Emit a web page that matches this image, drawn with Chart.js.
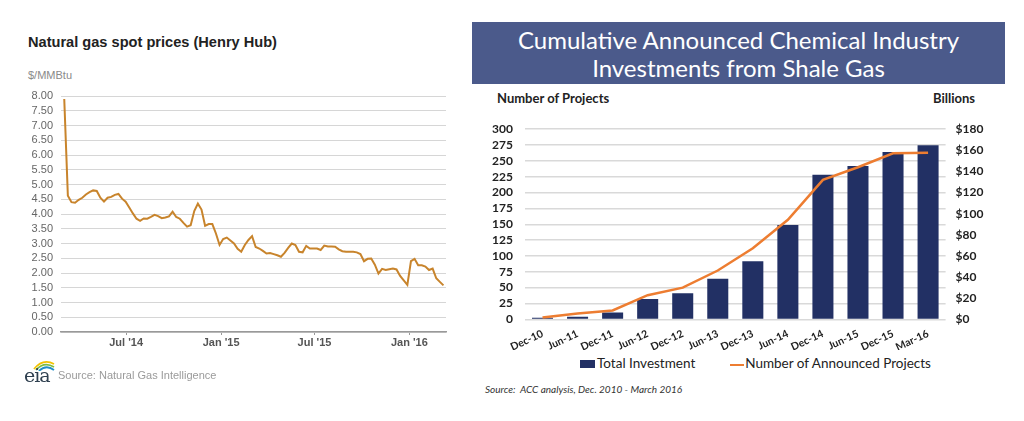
<!DOCTYPE html>
<html>
<head>
<meta charset="utf-8">
<script src="https://cdn.jsdelivr.net/npm/chart.js@4/dist/chart.umd.min.js"></script>
<style>
  body { margin: 0; background: #fff; width: 1024px; height: 421px; overflow: hidden; position: relative; }
  .abs { position: absolute; white-space: nowrap; }
  #gasTitle { left: 28px; top: 34px; font: bold 14.6px "Liberation Sans", Arial, sans-serif; color: #222; }
  #gasUnit { left: 28px; top: 69px; font: 11px "Liberation Sans", Arial, sans-serif; color: #8a8a8a; }
  #gasSource { left: 58px; top: 369px; font: 11px "Liberation Sans", Arial, sans-serif; color: #9a9a9a; }
  #eia { left: 24px; top: 364px; font: 19px "DejaVu Serif", serif; color: #2f4050; letter-spacing: -1px; }
  #banner { left: 472px; top: 22px; width: 533px; height: 62px; background: #4b5a8b; color: #fff;
            font: 24px Lato, sans-serif; text-align: center; line-height: 28px; padding-top: 4px; box-sizing: border-box; }
  .axisTitle { top: 90px; font: bold 13px Lato, sans-serif; color: #222; }
  #legend { left: 580px; top: 355px; font: 13.5px Lato, sans-serif; color: #222; }
  #legend span.box { display: inline-block; width: 15px; height: 8px; background: #223064; margin-right: 2px; }
  #legend span.ln { display: inline-block; width: 14px; height: 2px; background: #ed7d31; vertical-align: middle; margin: 0 1px 0 35px; }
  #accSource { left: 485px; top: 383px; font: italic 10px Lato, sans-serif; color: #333; }
</style>
</head>
<body>
<div class="abs" id="gasTitle">Natural gas spot prices (Henry Hub)</div>
<div class="abs" id="gasUnit">$/MMBtu</div>
<div class="abs" style="left:0;top:80px;width:460px;height:290px;"><canvas id="gasChart"></canvas></div>
<svg class="abs" style="left:33px;top:359px" width="22" height="12">
  <path d="M1 10 Q10 -1 21 5" stroke="#f2c200" stroke-width="1.8" fill="none"/>
  <path d="M3 11 Q11 2 21 8" stroke="#7dbb42" stroke-width="1.8" fill="none"/>
  <path d="M6 12 Q13 5 21 11" stroke="#1f8fc9" stroke-width="1.8" fill="none"/>
</svg>
<div class="abs" id="eia">eia</div>
<div class="abs" id="gasSource">Source: Natural Gas Intelligence</div>

<div class="abs" id="banner">Cumulative Announced Chemical Industry<br>Investments from Shale Gas</div>
<div class="abs axisTitle" style="left:497px;">Number of Projects</div>
<div class="abs axisTitle" style="left:933px;">Billions</div>
<div class="abs" style="left:470px;top:110px;width:520px;height:240px;"><canvas id="accChart"></canvas></div>
<div class="abs" id="legend"><span class="box"></span>Total Investment<span class="ln"></span>Number of Announced Projects</div>
<div class="abs" id="accSource">Source:&nbsp; ACC analysis, Dec. 2010 - March 2016</div>

<script>
// Henry Hub spot price, one reading per week starting the week of 3 Mar 2014 ($/MMBtu)
const gasPrices = [
  7.90, 4.62, 4.40, 4.38, 4.48, 4.55, 4.66, 4.74, 4.80, 4.78,
  4.55, 4.42, 4.55, 4.58, 4.65, 4.68, 4.52, 4.42, 4.22, 4.02,
  3.84, 3.77, 3.85, 3.84, 3.90, 3.97, 3.93, 3.86, 3.88, 3.92,
  4.08, 3.90, 3.84, 3.70, 3.57, 3.62, 4.10, 4.35, 4.15, 3.60,
  3.66, 3.66, 3.34, 2.95, 3.15, 3.20, 3.10, 3.00, 2.82, 2.72,
  2.95, 3.12, 3.25, 2.88, 2.83, 2.75, 2.66, 2.68, 2.64, 2.60,
  2.55, 2.68, 2.85, 3.00, 2.95, 2.72, 2.70, 2.92, 2.83, 2.83,
  2.83, 2.78, 2.93, 2.90, 2.90, 2.89, 2.80, 2.74, 2.72, 2.72,
  2.72, 2.70, 2.64, 2.40, 2.48, 2.49, 2.28, 1.98, 2.14, 2.10,
  2.13, 2.15, 2.12, 1.90, 1.75, 1.60, 2.40, 2.48, 2.26, 2.26,
  2.22, 2.10, 2.15, 1.82, 1.70, 1.58
];
// x-axis labels, placed at the week they fall in (weeks after 3 Mar 2014)
const gasTickLabels = ["Jul '14", "Jan '15", "Jul '15", "Jan '16"];
const gasTickWeeks = [17.14, 43.43, 69.29, 95.57];

const periods = ['Dec-10', 'Jun-11', 'Dec-11', 'Jun-12', 'Dec-12', 'Jun-13',
                 'Dec-13', 'Jun-14', 'Dec-14', 'Jun-15', 'Dec-15', 'Mar-16'];
const totalInvestment = [1.5, 2.4, 6.4, 19.2, 24.6, 38.4, 54.9, 89.4, 136.8, 145.2, 158.4, 164.7];
const announcedProjects = [3, 9, 14, 38, 50, 77, 112, 157, 220, 240, 262, 263];

const gasCtx = document.getElementById('gasChart').getContext('2d');
new Chart(gasCtx, {
  type: 'line',
  data: {
    datasets: [{
      data: gasPrices.map((p, i) => ({ x: i, y: p })),
      borderColor: '#c8842c',
      borderWidth: 2,
      pointRadius: 0,
      tension: 0
    }]
  },
  options: {
    responsive: true,
    maintainAspectRatio: false,
    animation: false,
    layout: { padding: { top: 16, right: 14, bottom: 16, left: 0 } },
    plugins: { legend: { display: false }, tooltip: { enabled: false } },
    scales: {
      x: {
        type: 'linear',
        min: -0.9,
        max: 105.7,
        afterFit: function(axis) { axis.height = 22; },
        afterBuildTicks: function(axis) {
          axis.ticks = gasTickWeeks.map(v => ({ value: v }));
        },
        ticks: {
          autoSkip: false,
          maxRotation: 0,
          padding: 1,
          color: '#555',
          font: { family: 'Liberation Sans', size: 11, weight: 'bold' },
          callback: function(value) {
            return gasTickLabels[gasTickWeeks.indexOf(value)];
          }
        },
        grid: { drawOnChartArea: false, tickLength: 3, color: '#999' },
        border: { color: '#999', width: 1.5 }
      },
      y: {
        min: 0,
        max: 8,
        afterFit: function(axis) { axis.width = 61; },
        ticks: {
          stepSize: 0.5,
          autoSkip: false,
          maxTicksLimit: 20,
          padding: 8,
          color: '#666',
          font: { family: 'Liberation Sans', size: 11 },
          callback: function(value) { return value.toFixed(2); }
        },
        grid: { drawTicks: false, color: '#d6d6d6' },
        border: { display: false }
      }
    }
  }
});

const accCtx = document.getElementById('accChart').getContext('2d');
new Chart(accCtx, {
  type: 'bar',
  data: {
    labels: periods,
    datasets: [
      {
        type: 'line',
        label: 'Number of Announced Projects',
        data: announcedProjects,
        yAxisID: 'y',
        borderColor: '#ed7d31',
        backgroundColor: '#ed7d31',
        borderWidth: 2.5,
        pointRadius: 0,
        tension: 0,
        order: 0
      },
      {
        label: 'Total Investment',
        data: totalInvestment,
        yAxisID: 'y1',
        backgroundColor: '#223064',
        categoryPercentage: 1,
        barPercentage: 0.6,
        order: 1
      }
    ]
  },
  options: {
    responsive: true,
    maintainAspectRatio: false,
    animation: false,
    layout: { padding: { top: 13, right: 0, bottom: 0, left: 0 } },
    plugins: { legend: { display: false }, tooltip: { enabled: false } },
    scales: {
      x: {
        afterFit: function(axis) { axis.height = 30.7; },
        ticks: {
          autoSkip: false,
          minRotation: 25,
          maxRotation: 25,
          padding: 0,
          color: '#222',
          font: { family: 'Lato', size: 10.5, weight: 'bold' }
        },
        grid: { display: false },
        border: { display: false }
      },
      y: {
        position: 'left',
        min: 0,
        max: 300,
        afterFit: function(axis) { axis.width = 55; },
        ticks: {
          stepSize: 25,
          autoSkip: false,
          maxTicksLimit: 20,
          padding: 12,
          color: '#222',
          font: { family: 'Lato', size: 12, weight: 'bold' }
        },
        grid: { drawTicks: false, color: '#d9d9d9', lineWidth: 1.5 },
        border: { display: false }
      },
      y1: {
        position: 'right',
        min: 0,
        max: 180,
        afterFit: function(axis) { axis.width = 44.4; },
        ticks: {
          stepSize: 20,
          autoSkip: false,
          maxTicksLimit: 20,
          padding: 10,
          color: '#222',
          font: { family: 'Lato', size: 12, weight: 'bold' },
          callback: function(value) { return '$' + value; }
        },
        grid: { drawOnChartArea: false, drawTicks: false },
        border: { display: false }
      }
    }
  }
});
</script>
</body>
</html>
